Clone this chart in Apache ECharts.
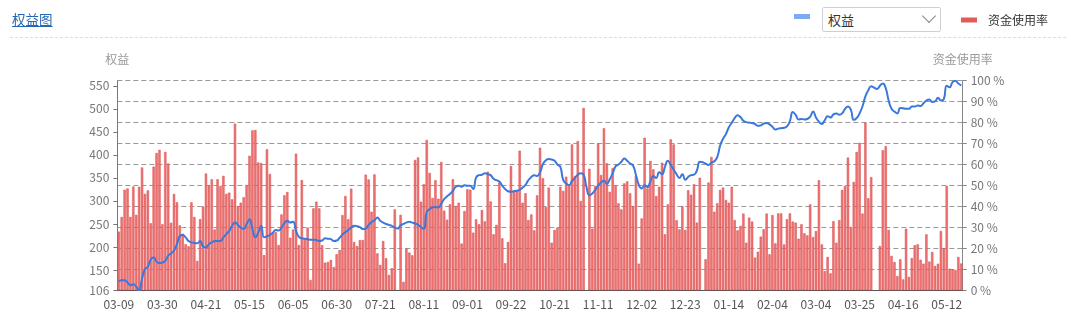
<!DOCTYPE html>
<html>
<head>
<meta charset="utf-8">
<script src="https://cdn.jsdelivr.net/npm/echarts@6/dist/echarts.min.js"></script>
<style>
html,body{margin:0;padding:0;width:1071px;height:327px;overflow:hidden;background:#fff;font-family:"Noto Sans CJK SC","Noto Sans",sans-serif;}
#chart{position:absolute;left:0;top:0;width:1071px;height:327px;}
#title{position:absolute;left:12px;top:10px;font-size:13.5px;color:#2567b5;text-decoration:underline;line-height:19px;z-index:2;}
#sep{position:absolute;left:10px;right:5px;top:37px;border-top:1px dashed #dcdcdc;z-index:2;}
#sel{position:absolute;left:822px;top:7px;width:117px;height:23px;border:1px solid #d0d0d0;border-radius:2px;background:#fff;font-size:13px;color:#333;z-index:2;}
#sel span{position:absolute;left:5px;top:2px;line-height:19px;}
#chev{position:absolute;left:101px;top:3px;width:9px;height:9px;border-right:1px solid #888;border-bottom:1px solid #888;transform:rotate(45deg);}
</style>
</head>
<body>
<div id="chart"></div>
<div id="title">权益图</div>
<div id="sep"></div>
<div id="sel"><span>权益</span><div id="chev"></div></div>
<script>
// trading-day categories (MM-DD), 2020-03-09 .. 2021-05-19
const categories = [
'03-09','03-10','03-11','03-12','03-13','03-16','03-17','03-18','03-19','03-20','03-23','03-24','03-25','03-26','03-27','03-30','03-31',
'04-01','04-02','04-03','04-07','04-08','04-09','04-10','04-13','04-14','04-15','04-16','04-17','04-20','04-21','04-22','04-23','04-24','04-27','04-28','04-29','04-30',
'05-06','05-07','05-08','05-11','05-12','05-13','05-14','05-15','05-18','05-19','05-20','05-21','05-22','05-25','05-26','05-27','05-28','05-29',
'06-01','06-02','06-03','06-04','06-05','06-08','06-09','06-10','06-11','06-12','06-15','06-16','06-17','06-18','06-19','06-22','06-23','06-24','06-29','06-30',
'07-01','07-02','07-03','07-06','07-07','07-08','07-09','07-10','07-13','07-14','07-15','07-16','07-17','07-20','07-21','07-22','07-23','07-24','07-27','07-28','07-29','07-30','07-31',
'08-03','08-04','08-05','08-06','08-07','08-10','08-11','08-12','08-13','08-14','08-17','08-18','08-19','08-20','08-21','08-24','08-25','08-26','08-27','08-28','08-31',
'09-01','09-02','09-03','09-04','09-07','09-08','09-09','09-10','09-11','09-14','09-15','09-16','09-17','09-18','09-21','09-22','09-23','09-24','09-25','09-28','09-29','09-30',
'10-09','10-12','10-13','10-14','10-15','10-16','10-19','10-20','10-21','10-22','10-23','10-26','10-27','10-28','10-29','10-30',
'11-02','11-03','11-04','11-05','11-06','11-09','11-10','11-11','11-12','11-13','11-16','11-17','11-18','11-19','11-20','11-23','11-24','11-25','11-26','11-27','11-30',
'12-01','12-02','12-03','12-04','12-07','12-08','12-09','12-10','12-11','12-14','12-15','12-16','12-17','12-18','12-21','12-22','12-23','12-24','12-25','12-28','12-29','12-30','12-31',
'01-04','01-05','01-06','01-07','01-08','01-11','01-12','01-13','01-14','01-15','01-18','01-19','01-20','01-21','01-22','01-25','01-26','01-27','01-28','01-29',
'02-01','02-02','02-03','02-04','02-05','02-08','02-09','02-10','02-18','02-19','02-22','02-23','02-24','02-25','02-26',
'03-01','03-02','03-03','03-04','03-05','03-08','03-09','03-10','03-11','03-12','03-15','03-16','03-17','03-18','03-19','03-22','03-23','03-24','03-25','03-26','03-29','03-30','03-31',
'04-01','04-02','04-06','04-07','04-08','04-09','04-12','04-13','04-14','04-15','04-16','04-19','04-20','04-21','04-22','04-23','04-26','04-27','04-28','04-29','04-30',
'05-06','05-07','05-10','05-11','05-12','05-13','05-14','05-17','05-18','05-19'
];

// 资金使用率 (%), one per category
const usage = [
28,35,48,48.6,35,49.5,36,49.4,58.6,46,47.7,32,59,65.5,67,
31.5,66,60.5,32.2,46,42,31,27,22,21,42,35,14,34,40,
55.7,50,53,29,53,49.7,54.6,46,46.6,43.4,79.5,40.2,41.8,44.4,50.2,
64.2,76.3,76.5,61,60.7,16.8,67.3,55.5,27.5,27.8,21.6,36.2,45.3,46.9,25.1,
29,65.2,21.6,52.6,24.8,29.9,4.9,39.1,42.3,39.1,21.5,13.2,13.5,14.5,11.1,
17.2,19.2,35.9,45,33.9,48.5,23,21.1,24,24,55.2,52.9,37.5,55.3,17.6,
12.1,23.5,15.3,7.3,10.5,38.6,null,36,4,20,18,16.7,62.2,63.4,42.3,
50.6,71.7,56,44,52.5,43.7,61.2,38,33.7,41,53,40.2,41.8,22.3,37.8,
48.2,48,27.5,33.9,31.5,38.3,32.9,56.6,42.4,26.7,31.2,51.4,24.8,12.9,23,
59.3,47.4,47.4,66.6,41.8,46.3,33.5,36.2,28.6,45.3,68,53.4,39.7,49,22.7,
28.8,29.9,49.4,47.4,54.2,49.8,69.6,54.5,71.2,42.6,87,null,58,29.4,49.8,
70.1,55,77.3,60.6,47,58.3,49.8,41.5,38.6,51,52,46.3,40.2,54.5,12.7,
34.3,72.8,48.6,61.7,57.7,45,49.4,60.9,26.7,41,72,69.6,33.4,29.1,40.2,
28.8,47.7,45.6,50.6,32.3,53.7,null,14.8,51.4,63.6,37.5,41.5,47.9,49,43.1,
41.8,49.4,33.5,28.6,30.7,36.6,22.7,34.7,32.8,15.6,18.4,25.6,29.1,36.6,17.2,
35.9,22.4,36.7,36.7,21.9,33.9,36.7,32.8,32.3,24.6,31.5,27.2,26.2,41,25.4,
28.3,52.5,21.9,9.2,15.9,8.1,33,22.7,33.5,47.9,49.8,63.3,30.2,51.7,66,
70.4,36.6,80,43.9,54,null,null,21.1,66.8,68.8,28.8,16.4,13.5,6.8,14.8,
5.2,29.4,6.4,15.4,21.5,21.9,14.6,12.7,26.7,13.7,18.3,11.6,12.7,28.3,20,
49.8,10.3,10,9.7,15.9,12.8
];

// 权益, one per category
const equity = [
126,128,128,123,117,119,114,106,131,152,157,173,177,168,165,
166,170,181,186,192,206,224,226,221,213,210,209,208,213,201,
199,206,210,213,213,213,221,228,235,246,253,248,242,239,250,
260,239,221,231,246,221,223,226,231,237,236,242,252,257,253,
255,235,222,219,218,217,216,216,215,213,214,219,218,217,213,
214,220,227,232,237,242,246,245,243,239,240,248,254,258,264,
257,253,250,248,246,242,240,247,250,253,255,253,251,248,243,
239,276,282,286,287,286,294,304,310,315,322,331,333,331,334,
333,333,326,351,356,357,360,358,356,348,345,342,333,326,321,
320,321,322,324,329,335,345,352,356,354,362,380,388,391,390,
387,379,374,345,338,334,343,350,357,360,357,330,312,316,324,
333,340,344,337,347,360,375,379,385,392,387,381,377,357,335,
327,334,330,343,354,350,362,358,374,387,378,368,358,350,358,
346,352,356,357,366,385,384,381,378,383,386,395,420,435,445,
460,470,480,486,482,474,471,470,469,467,463,464,468,469,466,
461,455,457,458,459,462,473,493,487,477,478,477,478,483,494,
481,472,467,475,484,481,488,490,487,490,500,505,498,476,480,
490,505,527,540,549,546,543,550,555,545,518,500,494,490,502,
501,500,500,505,505,507,506,512,518,520,515,516,524,518,521,
550,547,558,561,555,551
];

const FONT = '"Noto Sans CJK SC","Noto Sans",sans-serif';
const chart = echarts.init(document.getElementById('chart'));
chart.setOption({
  animation: false,
  textStyle: { fontFamily: FONT },
  legend: [
    { data: [{ name: '资金使用率', itemStyle: { color: '#e25b5b', borderWidth: 0 } }], left: 956, top: 9, icon: 'rect',
      itemWidth: 16, itemHeight: 5, selectedMode: false,
      textStyle: { color: '#333', fontSize: 12, padding: [0, 0, 0, 6] } },
    { data: [{ name: '权益', itemStyle: { color: '#7eaaf3', borderWidth: 0 } }], left: 789, top: 9, icon: 'rect',
      itemWidth: 16, itemHeight: 5, selectedMode: false, formatter: function () { return ''; } }
  ],
  grid: { left: 117.35, right: 108.3, top: 80.7, bottom: 36.7, containLabel: false },
  xAxis: {
    type: 'category', data: categories, boundaryGap: true,
    axisLine: { lineStyle: { color: '#555' } },
    axisTick: { interval: function (i) { return i % 15 === 8; }, length: 4, lineStyle: { color: '#555' } },
    axisLabel: { interval: 14, color: '#555', fontSize: 12, margin: 8 }
  },
  yAxis: [
    { type: 'value', name: '权益', min: 106, max: 561, splitNumber: 9, position: 'left',
      nameTextStyle: { color: '#999', fontSize: 12 },
      axisLine: { show: true, lineStyle: { color: '#777' } }, axisTick: { show: true, length: 4 },
      axisLabel: { color: '#777', fontSize: 12 }, splitLine: { show: false } },
    { type: 'value', name: '资金使用率', min: 0, max: 100, interval: 10, position: 'right',
      nameTextStyle: { color: '#999', fontSize: 12 },
      axisLine: { show: true, lineStyle: { color: '#888' } }, axisTick: { show: true, length: 4 },
      axisLabel: { color: '#777', fontSize: 12, formatter: '{value} %' },
      splitLine: { show: true, lineStyle: { type: [5, 3], color: '#999' } } }
  ],
  series: [
    { name: '资金使用率', type: 'bar', yAxisIndex: 1, data: usage, barCategoryGap: '20%',
      itemStyle: { color: '#ef7373', borderColor: '#d94b4b', borderWidth: 0.5 } },
    { name: '权益', type: 'line', yAxisIndex: 0, data: equity, smooth: true, showSymbol: false,
      lineStyle: { width: 2, color: '#3a78dc' }, itemStyle: { color: '#3a78dc' } }
  ]
});
</script>
</body>
</html>
